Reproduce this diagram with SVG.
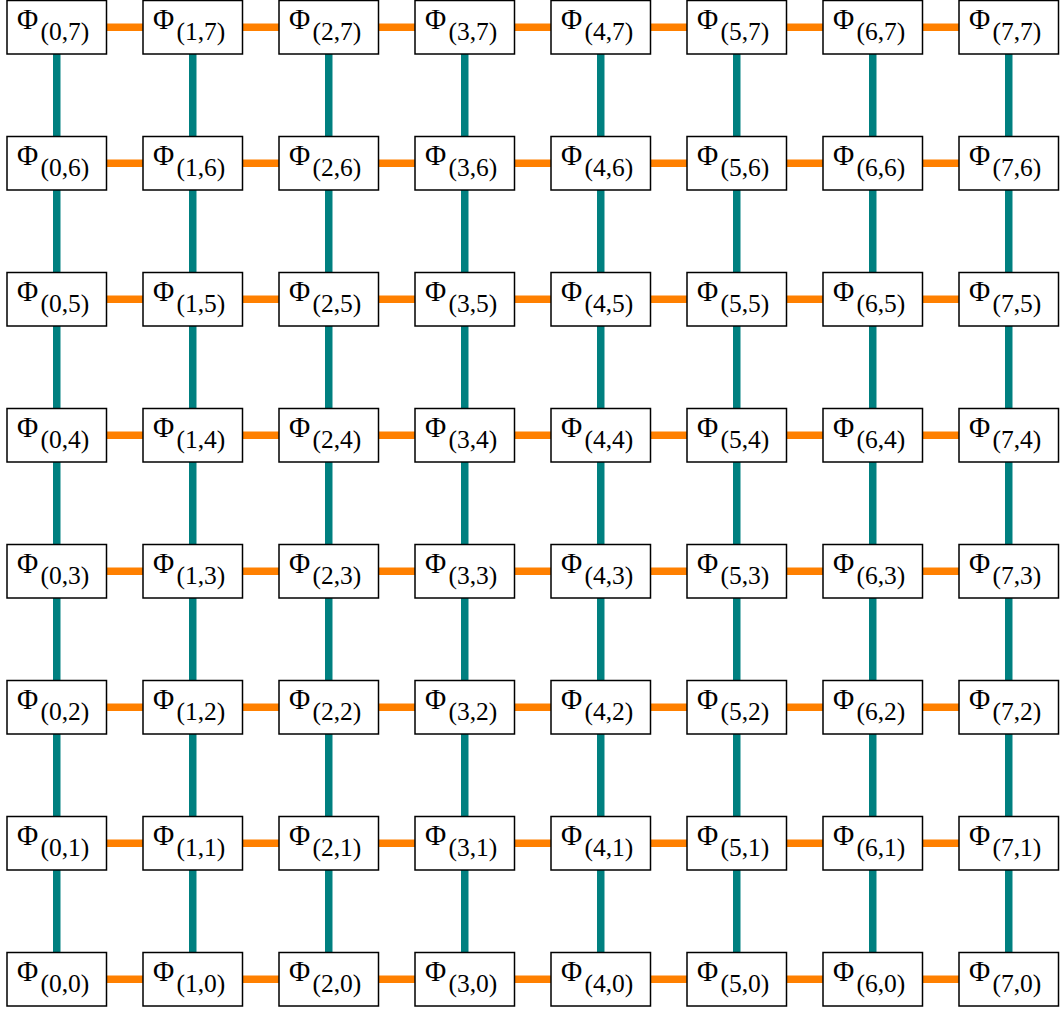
<svg xmlns="http://www.w3.org/2000/svg" width="1060" height="1012" viewBox="0 0 1060 1012">
<style>
.bg{fill:#ffffff}
.box{fill:#ffffff;stroke:#000000;stroke-width:1.5}
.m{font-family:"Liberation Serif","Times New Roman",serif;font-size:29px;fill:#000}
.s{font-family:"Liberation Serif","Times New Roman",serif;font-size:25.5px;fill:#000}
.h{stroke:#ff8000;stroke-width:7.5}
.v{stroke:#008080;stroke-width:7.5}
</style>
<defs>
<rect id="b" class="box" x="0" y="0" width="99.5" height="53.5"/>
</defs>
<rect class="bg" x="0" y="0" width="1060" height="1012"/>
<g id="connectors">
<g id="h-edges">
<line class="h" x1="106.5" y1="27.25" x2="143" y2="27.25"/><line class="h" x1="242.5" y1="27.25" x2="279" y2="27.25"/><line class="h" x1="378.5" y1="27.25" x2="415" y2="27.25"/><line class="h" x1="514.5" y1="27.25" x2="551" y2="27.25"/><line class="h" x1="650.5" y1="27.25" x2="687" y2="27.25"/><line class="h" x1="786.5" y1="27.25" x2="823" y2="27.25"/><line class="h" x1="922.5" y1="27.25" x2="959" y2="27.25"/>
<line class="h" x1="106.5" y1="163.25" x2="143" y2="163.25"/><line class="h" x1="242.5" y1="163.25" x2="279" y2="163.25"/><line class="h" x1="378.5" y1="163.25" x2="415" y2="163.25"/><line class="h" x1="514.5" y1="163.25" x2="551" y2="163.25"/><line class="h" x1="650.5" y1="163.25" x2="687" y2="163.25"/><line class="h" x1="786.5" y1="163.25" x2="823" y2="163.25"/><line class="h" x1="922.5" y1="163.25" x2="959" y2="163.25"/>
<line class="h" x1="106.5" y1="299.25" x2="143" y2="299.25"/><line class="h" x1="242.5" y1="299.25" x2="279" y2="299.25"/><line class="h" x1="378.5" y1="299.25" x2="415" y2="299.25"/><line class="h" x1="514.5" y1="299.25" x2="551" y2="299.25"/><line class="h" x1="650.5" y1="299.25" x2="687" y2="299.25"/><line class="h" x1="786.5" y1="299.25" x2="823" y2="299.25"/><line class="h" x1="922.5" y1="299.25" x2="959" y2="299.25"/>
<line class="h" x1="106.5" y1="435.25" x2="143" y2="435.25"/><line class="h" x1="242.5" y1="435.25" x2="279" y2="435.25"/><line class="h" x1="378.5" y1="435.25" x2="415" y2="435.25"/><line class="h" x1="514.5" y1="435.25" x2="551" y2="435.25"/><line class="h" x1="650.5" y1="435.25" x2="687" y2="435.25"/><line class="h" x1="786.5" y1="435.25" x2="823" y2="435.25"/><line class="h" x1="922.5" y1="435.25" x2="959" y2="435.25"/>
<line class="h" x1="106.5" y1="571.25" x2="143" y2="571.25"/><line class="h" x1="242.5" y1="571.25" x2="279" y2="571.25"/><line class="h" x1="378.5" y1="571.25" x2="415" y2="571.25"/><line class="h" x1="514.5" y1="571.25" x2="551" y2="571.25"/><line class="h" x1="650.5" y1="571.25" x2="687" y2="571.25"/><line class="h" x1="786.5" y1="571.25" x2="823" y2="571.25"/><line class="h" x1="922.5" y1="571.25" x2="959" y2="571.25"/>
<line class="h" x1="106.5" y1="707.25" x2="143" y2="707.25"/><line class="h" x1="242.5" y1="707.25" x2="279" y2="707.25"/><line class="h" x1="378.5" y1="707.25" x2="415" y2="707.25"/><line class="h" x1="514.5" y1="707.25" x2="551" y2="707.25"/><line class="h" x1="650.5" y1="707.25" x2="687" y2="707.25"/><line class="h" x1="786.5" y1="707.25" x2="823" y2="707.25"/><line class="h" x1="922.5" y1="707.25" x2="959" y2="707.25"/>
<line class="h" x1="106.5" y1="843.25" x2="143" y2="843.25"/><line class="h" x1="242.5" y1="843.25" x2="279" y2="843.25"/><line class="h" x1="378.5" y1="843.25" x2="415" y2="843.25"/><line class="h" x1="514.5" y1="843.25" x2="551" y2="843.25"/><line class="h" x1="650.5" y1="843.25" x2="687" y2="843.25"/><line class="h" x1="786.5" y1="843.25" x2="823" y2="843.25"/><line class="h" x1="922.5" y1="843.25" x2="959" y2="843.25"/>
<line class="h" x1="106.5" y1="979.25" x2="143" y2="979.25"/><line class="h" x1="242.5" y1="979.25" x2="279" y2="979.25"/><line class="h" x1="378.5" y1="979.25" x2="415" y2="979.25"/><line class="h" x1="514.5" y1="979.25" x2="551" y2="979.25"/><line class="h" x1="650.5" y1="979.25" x2="687" y2="979.25"/><line class="h" x1="786.5" y1="979.25" x2="823" y2="979.25"/><line class="h" x1="922.5" y1="979.25" x2="959" y2="979.25"/>
</g>
<g id="v-edges">
<line class="v" x1="56.75" y1="54" x2="56.75" y2="136.5"/><line class="v" x1="56.75" y1="190" x2="56.75" y2="272.5"/><line class="v" x1="56.75" y1="326" x2="56.75" y2="408.5"/><line class="v" x1="56.75" y1="462" x2="56.75" y2="544.5"/><line class="v" x1="56.75" y1="598" x2="56.75" y2="680.5"/><line class="v" x1="56.75" y1="734" x2="56.75" y2="816.5"/><line class="v" x1="56.75" y1="870" x2="56.75" y2="952.5"/>
<line class="v" x1="192.75" y1="54" x2="192.75" y2="136.5"/><line class="v" x1="192.75" y1="190" x2="192.75" y2="272.5"/><line class="v" x1="192.75" y1="326" x2="192.75" y2="408.5"/><line class="v" x1="192.75" y1="462" x2="192.75" y2="544.5"/><line class="v" x1="192.75" y1="598" x2="192.75" y2="680.5"/><line class="v" x1="192.75" y1="734" x2="192.75" y2="816.5"/><line class="v" x1="192.75" y1="870" x2="192.75" y2="952.5"/>
<line class="v" x1="328.75" y1="54" x2="328.75" y2="136.5"/><line class="v" x1="328.75" y1="190" x2="328.75" y2="272.5"/><line class="v" x1="328.75" y1="326" x2="328.75" y2="408.5"/><line class="v" x1="328.75" y1="462" x2="328.75" y2="544.5"/><line class="v" x1="328.75" y1="598" x2="328.75" y2="680.5"/><line class="v" x1="328.75" y1="734" x2="328.75" y2="816.5"/><line class="v" x1="328.75" y1="870" x2="328.75" y2="952.5"/>
<line class="v" x1="464.75" y1="54" x2="464.75" y2="136.5"/><line class="v" x1="464.75" y1="190" x2="464.75" y2="272.5"/><line class="v" x1="464.75" y1="326" x2="464.75" y2="408.5"/><line class="v" x1="464.75" y1="462" x2="464.75" y2="544.5"/><line class="v" x1="464.75" y1="598" x2="464.75" y2="680.5"/><line class="v" x1="464.75" y1="734" x2="464.75" y2="816.5"/><line class="v" x1="464.75" y1="870" x2="464.75" y2="952.5"/>
<line class="v" x1="600.75" y1="54" x2="600.75" y2="136.5"/><line class="v" x1="600.75" y1="190" x2="600.75" y2="272.5"/><line class="v" x1="600.75" y1="326" x2="600.75" y2="408.5"/><line class="v" x1="600.75" y1="462" x2="600.75" y2="544.5"/><line class="v" x1="600.75" y1="598" x2="600.75" y2="680.5"/><line class="v" x1="600.75" y1="734" x2="600.75" y2="816.5"/><line class="v" x1="600.75" y1="870" x2="600.75" y2="952.5"/>
<line class="v" x1="736.75" y1="54" x2="736.75" y2="136.5"/><line class="v" x1="736.75" y1="190" x2="736.75" y2="272.5"/><line class="v" x1="736.75" y1="326" x2="736.75" y2="408.5"/><line class="v" x1="736.75" y1="462" x2="736.75" y2="544.5"/><line class="v" x1="736.75" y1="598" x2="736.75" y2="680.5"/><line class="v" x1="736.75" y1="734" x2="736.75" y2="816.5"/><line class="v" x1="736.75" y1="870" x2="736.75" y2="952.5"/>
<line class="v" x1="872.75" y1="54" x2="872.75" y2="136.5"/><line class="v" x1="872.75" y1="190" x2="872.75" y2="272.5"/><line class="v" x1="872.75" y1="326" x2="872.75" y2="408.5"/><line class="v" x1="872.75" y1="462" x2="872.75" y2="544.5"/><line class="v" x1="872.75" y1="598" x2="872.75" y2="680.5"/><line class="v" x1="872.75" y1="734" x2="872.75" y2="816.5"/><line class="v" x1="872.75" y1="870" x2="872.75" y2="952.5"/>
<line class="v" x1="1008.75" y1="54" x2="1008.75" y2="136.5"/><line class="v" x1="1008.75" y1="190" x2="1008.75" y2="272.5"/><line class="v" x1="1008.75" y1="326" x2="1008.75" y2="408.5"/><line class="v" x1="1008.75" y1="462" x2="1008.75" y2="544.5"/><line class="v" x1="1008.75" y1="598" x2="1008.75" y2="680.5"/><line class="v" x1="1008.75" y1="734" x2="1008.75" y2="816.5"/><line class="v" x1="1008.75" y1="870" x2="1008.75" y2="952.5"/>
</g>
</g>
<g id="nodes">
<g id="n0_7" transform="translate(7,0.5)"><use href="#b"/><text><tspan class="m" x="10" y="28.5">Φ</tspan><tspan class="s" x="33.5" y="39">(0,7)</tspan></text></g>
<g id="n1_7" transform="translate(143,0.5)"><use href="#b"/><text><tspan class="m" x="10" y="28.5">Φ</tspan><tspan class="s" x="33.5" y="39">(1,7)</tspan></text></g>
<g id="n2_7" transform="translate(279,0.5)"><use href="#b"/><text><tspan class="m" x="10" y="28.5">Φ</tspan><tspan class="s" x="33.5" y="39">(2,7)</tspan></text></g>
<g id="n3_7" transform="translate(415,0.5)"><use href="#b"/><text><tspan class="m" x="10" y="28.5">Φ</tspan><tspan class="s" x="33.5" y="39">(3,7)</tspan></text></g>
<g id="n4_7" transform="translate(551,0.5)"><use href="#b"/><text><tspan class="m" x="10" y="28.5">Φ</tspan><tspan class="s" x="33.5" y="39">(4,7)</tspan></text></g>
<g id="n5_7" transform="translate(687,0.5)"><use href="#b"/><text><tspan class="m" x="10" y="28.5">Φ</tspan><tspan class="s" x="33.5" y="39">(5,7)</tspan></text></g>
<g id="n6_7" transform="translate(823,0.5)"><use href="#b"/><text><tspan class="m" x="10" y="28.5">Φ</tspan><tspan class="s" x="33.5" y="39">(6,7)</tspan></text></g>
<g id="n7_7" transform="translate(959,0.5)"><use href="#b"/><text><tspan class="m" x="10" y="28.5">Φ</tspan><tspan class="s" x="33.5" y="39">(7,7)</tspan></text></g>
<g id="n0_6" transform="translate(7,136.5)"><use href="#b"/><text><tspan class="m" x="10" y="28.5">Φ</tspan><tspan class="s" x="33.5" y="39">(0,6)</tspan></text></g>
<g id="n1_6" transform="translate(143,136.5)"><use href="#b"/><text><tspan class="m" x="10" y="28.5">Φ</tspan><tspan class="s" x="33.5" y="39">(1,6)</tspan></text></g>
<g id="n2_6" transform="translate(279,136.5)"><use href="#b"/><text><tspan class="m" x="10" y="28.5">Φ</tspan><tspan class="s" x="33.5" y="39">(2,6)</tspan></text></g>
<g id="n3_6" transform="translate(415,136.5)"><use href="#b"/><text><tspan class="m" x="10" y="28.5">Φ</tspan><tspan class="s" x="33.5" y="39">(3,6)</tspan></text></g>
<g id="n4_6" transform="translate(551,136.5)"><use href="#b"/><text><tspan class="m" x="10" y="28.5">Φ</tspan><tspan class="s" x="33.5" y="39">(4,6)</tspan></text></g>
<g id="n5_6" transform="translate(687,136.5)"><use href="#b"/><text><tspan class="m" x="10" y="28.5">Φ</tspan><tspan class="s" x="33.5" y="39">(5,6)</tspan></text></g>
<g id="n6_6" transform="translate(823,136.5)"><use href="#b"/><text><tspan class="m" x="10" y="28.5">Φ</tspan><tspan class="s" x="33.5" y="39">(6,6)</tspan></text></g>
<g id="n7_6" transform="translate(959,136.5)"><use href="#b"/><text><tspan class="m" x="10" y="28.5">Φ</tspan><tspan class="s" x="33.5" y="39">(7,6)</tspan></text></g>
<g id="n0_5" transform="translate(7,272.5)"><use href="#b"/><text><tspan class="m" x="10" y="28.5">Φ</tspan><tspan class="s" x="33.5" y="39">(0,5)</tspan></text></g>
<g id="n1_5" transform="translate(143,272.5)"><use href="#b"/><text><tspan class="m" x="10" y="28.5">Φ</tspan><tspan class="s" x="33.5" y="39">(1,5)</tspan></text></g>
<g id="n2_5" transform="translate(279,272.5)"><use href="#b"/><text><tspan class="m" x="10" y="28.5">Φ</tspan><tspan class="s" x="33.5" y="39">(2,5)</tspan></text></g>
<g id="n3_5" transform="translate(415,272.5)"><use href="#b"/><text><tspan class="m" x="10" y="28.5">Φ</tspan><tspan class="s" x="33.5" y="39">(3,5)</tspan></text></g>
<g id="n4_5" transform="translate(551,272.5)"><use href="#b"/><text><tspan class="m" x="10" y="28.5">Φ</tspan><tspan class="s" x="33.5" y="39">(4,5)</tspan></text></g>
<g id="n5_5" transform="translate(687,272.5)"><use href="#b"/><text><tspan class="m" x="10" y="28.5">Φ</tspan><tspan class="s" x="33.5" y="39">(5,5)</tspan></text></g>
<g id="n6_5" transform="translate(823,272.5)"><use href="#b"/><text><tspan class="m" x="10" y="28.5">Φ</tspan><tspan class="s" x="33.5" y="39">(6,5)</tspan></text></g>
<g id="n7_5" transform="translate(959,272.5)"><use href="#b"/><text><tspan class="m" x="10" y="28.5">Φ</tspan><tspan class="s" x="33.5" y="39">(7,5)</tspan></text></g>
<g id="n0_4" transform="translate(7,408.5)"><use href="#b"/><text><tspan class="m" x="10" y="28.5">Φ</tspan><tspan class="s" x="33.5" y="39">(0,4)</tspan></text></g>
<g id="n1_4" transform="translate(143,408.5)"><use href="#b"/><text><tspan class="m" x="10" y="28.5">Φ</tspan><tspan class="s" x="33.5" y="39">(1,4)</tspan></text></g>
<g id="n2_4" transform="translate(279,408.5)"><use href="#b"/><text><tspan class="m" x="10" y="28.5">Φ</tspan><tspan class="s" x="33.5" y="39">(2,4)</tspan></text></g>
<g id="n3_4" transform="translate(415,408.5)"><use href="#b"/><text><tspan class="m" x="10" y="28.5">Φ</tspan><tspan class="s" x="33.5" y="39">(3,4)</tspan></text></g>
<g id="n4_4" transform="translate(551,408.5)"><use href="#b"/><text><tspan class="m" x="10" y="28.5">Φ</tspan><tspan class="s" x="33.5" y="39">(4,4)</tspan></text></g>
<g id="n5_4" transform="translate(687,408.5)"><use href="#b"/><text><tspan class="m" x="10" y="28.5">Φ</tspan><tspan class="s" x="33.5" y="39">(5,4)</tspan></text></g>
<g id="n6_4" transform="translate(823,408.5)"><use href="#b"/><text><tspan class="m" x="10" y="28.5">Φ</tspan><tspan class="s" x="33.5" y="39">(6,4)</tspan></text></g>
<g id="n7_4" transform="translate(959,408.5)"><use href="#b"/><text><tspan class="m" x="10" y="28.5">Φ</tspan><tspan class="s" x="33.5" y="39">(7,4)</tspan></text></g>
<g id="n0_3" transform="translate(7,544.5)"><use href="#b"/><text><tspan class="m" x="10" y="28.5">Φ</tspan><tspan class="s" x="33.5" y="39">(0,3)</tspan></text></g>
<g id="n1_3" transform="translate(143,544.5)"><use href="#b"/><text><tspan class="m" x="10" y="28.5">Φ</tspan><tspan class="s" x="33.5" y="39">(1,3)</tspan></text></g>
<g id="n2_3" transform="translate(279,544.5)"><use href="#b"/><text><tspan class="m" x="10" y="28.5">Φ</tspan><tspan class="s" x="33.5" y="39">(2,3)</tspan></text></g>
<g id="n3_3" transform="translate(415,544.5)"><use href="#b"/><text><tspan class="m" x="10" y="28.5">Φ</tspan><tspan class="s" x="33.5" y="39">(3,3)</tspan></text></g>
<g id="n4_3" transform="translate(551,544.5)"><use href="#b"/><text><tspan class="m" x="10" y="28.5">Φ</tspan><tspan class="s" x="33.5" y="39">(4,3)</tspan></text></g>
<g id="n5_3" transform="translate(687,544.5)"><use href="#b"/><text><tspan class="m" x="10" y="28.5">Φ</tspan><tspan class="s" x="33.5" y="39">(5,3)</tspan></text></g>
<g id="n6_3" transform="translate(823,544.5)"><use href="#b"/><text><tspan class="m" x="10" y="28.5">Φ</tspan><tspan class="s" x="33.5" y="39">(6,3)</tspan></text></g>
<g id="n7_3" transform="translate(959,544.5)"><use href="#b"/><text><tspan class="m" x="10" y="28.5">Φ</tspan><tspan class="s" x="33.5" y="39">(7,3)</tspan></text></g>
<g id="n0_2" transform="translate(7,680.5)"><use href="#b"/><text><tspan class="m" x="10" y="28.5">Φ</tspan><tspan class="s" x="33.5" y="39">(0,2)</tspan></text></g>
<g id="n1_2" transform="translate(143,680.5)"><use href="#b"/><text><tspan class="m" x="10" y="28.5">Φ</tspan><tspan class="s" x="33.5" y="39">(1,2)</tspan></text></g>
<g id="n2_2" transform="translate(279,680.5)"><use href="#b"/><text><tspan class="m" x="10" y="28.5">Φ</tspan><tspan class="s" x="33.5" y="39">(2,2)</tspan></text></g>
<g id="n3_2" transform="translate(415,680.5)"><use href="#b"/><text><tspan class="m" x="10" y="28.5">Φ</tspan><tspan class="s" x="33.5" y="39">(3,2)</tspan></text></g>
<g id="n4_2" transform="translate(551,680.5)"><use href="#b"/><text><tspan class="m" x="10" y="28.5">Φ</tspan><tspan class="s" x="33.5" y="39">(4,2)</tspan></text></g>
<g id="n5_2" transform="translate(687,680.5)"><use href="#b"/><text><tspan class="m" x="10" y="28.5">Φ</tspan><tspan class="s" x="33.5" y="39">(5,2)</tspan></text></g>
<g id="n6_2" transform="translate(823,680.5)"><use href="#b"/><text><tspan class="m" x="10" y="28.5">Φ</tspan><tspan class="s" x="33.5" y="39">(6,2)</tspan></text></g>
<g id="n7_2" transform="translate(959,680.5)"><use href="#b"/><text><tspan class="m" x="10" y="28.5">Φ</tspan><tspan class="s" x="33.5" y="39">(7,2)</tspan></text></g>
<g id="n0_1" transform="translate(7,816.5)"><use href="#b"/><text><tspan class="m" x="10" y="28.5">Φ</tspan><tspan class="s" x="33.5" y="39">(0,1)</tspan></text></g>
<g id="n1_1" transform="translate(143,816.5)"><use href="#b"/><text><tspan class="m" x="10" y="28.5">Φ</tspan><tspan class="s" x="33.5" y="39">(1,1)</tspan></text></g>
<g id="n2_1" transform="translate(279,816.5)"><use href="#b"/><text><tspan class="m" x="10" y="28.5">Φ</tspan><tspan class="s" x="33.5" y="39">(2,1)</tspan></text></g>
<g id="n3_1" transform="translate(415,816.5)"><use href="#b"/><text><tspan class="m" x="10" y="28.5">Φ</tspan><tspan class="s" x="33.5" y="39">(3,1)</tspan></text></g>
<g id="n4_1" transform="translate(551,816.5)"><use href="#b"/><text><tspan class="m" x="10" y="28.5">Φ</tspan><tspan class="s" x="33.5" y="39">(4,1)</tspan></text></g>
<g id="n5_1" transform="translate(687,816.5)"><use href="#b"/><text><tspan class="m" x="10" y="28.5">Φ</tspan><tspan class="s" x="33.5" y="39">(5,1)</tspan></text></g>
<g id="n6_1" transform="translate(823,816.5)"><use href="#b"/><text><tspan class="m" x="10" y="28.5">Φ</tspan><tspan class="s" x="33.5" y="39">(6,1)</tspan></text></g>
<g id="n7_1" transform="translate(959,816.5)"><use href="#b"/><text><tspan class="m" x="10" y="28.5">Φ</tspan><tspan class="s" x="33.5" y="39">(7,1)</tspan></text></g>
<g id="n0_0" transform="translate(7,952.5)"><use href="#b"/><text><tspan class="m" x="10" y="28.5">Φ</tspan><tspan class="s" x="33.5" y="39">(0,0)</tspan></text></g>
<g id="n1_0" transform="translate(143,952.5)"><use href="#b"/><text><tspan class="m" x="10" y="28.5">Φ</tspan><tspan class="s" x="33.5" y="39">(1,0)</tspan></text></g>
<g id="n2_0" transform="translate(279,952.5)"><use href="#b"/><text><tspan class="m" x="10" y="28.5">Φ</tspan><tspan class="s" x="33.5" y="39">(2,0)</tspan></text></g>
<g id="n3_0" transform="translate(415,952.5)"><use href="#b"/><text><tspan class="m" x="10" y="28.5">Φ</tspan><tspan class="s" x="33.5" y="39">(3,0)</tspan></text></g>
<g id="n4_0" transform="translate(551,952.5)"><use href="#b"/><text><tspan class="m" x="10" y="28.5">Φ</tspan><tspan class="s" x="33.5" y="39">(4,0)</tspan></text></g>
<g id="n5_0" transform="translate(687,952.5)"><use href="#b"/><text><tspan class="m" x="10" y="28.5">Φ</tspan><tspan class="s" x="33.5" y="39">(5,0)</tspan></text></g>
<g id="n6_0" transform="translate(823,952.5)"><use href="#b"/><text><tspan class="m" x="10" y="28.5">Φ</tspan><tspan class="s" x="33.5" y="39">(6,0)</tspan></text></g>
<g id="n7_0" transform="translate(959,952.5)"><use href="#b"/><text><tspan class="m" x="10" y="28.5">Φ</tspan><tspan class="s" x="33.5" y="39">(7,0)</tspan></text></g>
</g>
</svg>
